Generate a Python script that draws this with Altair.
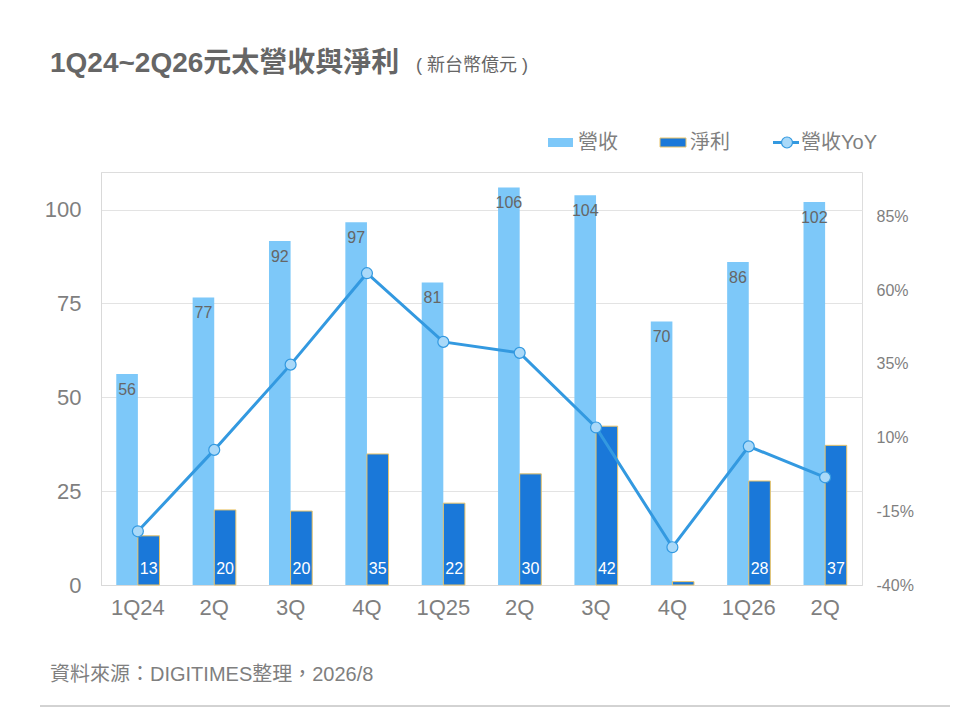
import altair as alt
import pandas as pd

# ---- data ----
periods = ["1Q24", "2Q24", "3Q24", "4Q24", "1Q25", "2Q25", "3Q25", "4Q25", "1Q26", "2Q26"]
revenue = [56.2, 76.6, 91.6, 96.6, 80.6, 105.9, 103.8, 70.2, 86.0, 102.0]   # 營收 (新台幣億元)
profit = [13.1, 20.0, 19.7, 34.9, 21.8, 29.6, 42.3, 0.9, 27.7, 37.2]      # 淨利
yoy = [-21.8, 5.8, 34.7, 65.7, 42.4, 38.7, 13.4, -27.2, 7.0, -3.5]        # 營收YoY (%)

series_names = ["營收", "淨利"]
series_colors = ["#7DC8F9", "#1A78D9"]
left_ticks = [0, 25, 50, 75, 100]
right_ticks = [-40, -15, 10, 35, 60, 85]

FONT = "Liberation Sans, Arial, Noto Sans CJK TC, sans-serif"
GRAY = "#7F7F7F"

bars_df = pd.DataFrame(
    [{"period": p, "series": "營收", "value": v} for p, v in zip(periods, revenue)]
    + [{"period": p, "series": "淨利", "value": v} for p, v in zip(periods, profit)]
)
line_df = pd.DataFrame({"period": periods, "yoy": yoy})
one = pd.DataFrame({"a": [0]})

x_enc = alt.X(
    "period:N",
    sort=periods,
    scale=alt.Scale(paddingInner=0.434),
    axis=alt.Axis(
        title=None,
        labelExpr="indexof(datum.value,'1Q')==0 ? datum.value : slice(datum.value,0,2)",
        labelAngle=0,
        labelFontSize=22,
        labelColor=GRAY,
        labelPadding=12,
        ticks=False,
        domainColor="#D9D9D9",
        domainWidth=1,
    ),
)
xoff = alt.XOffset("series:N", sort=series_names, scale=alt.Scale(domain=series_names, paddingInner=0))
y_left = alt.Y(
    "value:Q",
    scale=alt.Scale(domain=[0, 110], nice=False),
    axis=alt.Axis(
        title=None,
        values=left_ticks,
        labelFontSize=22,
        labelColor=GRAY,
        labelPadding=20,
        ticks=False,
        tickSize=0,
        gridColor="#E3E3E3",
        domainColor="#D9D9D9",
    ),
)

bars = alt.Chart(bars_df).mark_bar(strokeWidth=1).encode(
    x=x_enc,
    xOffset=xoff,
    y=y_left,
    color=alt.Color("series:N", scale=alt.Scale(domain=series_names, range=series_colors), legend=None),
    stroke=alt.condition("datum.series == '淨利'", alt.value("#E9C46A"), alt.value("transparent")),
)

rev_text = alt.Chart(bars_df).transform_filter("datum.series == '營收'").mark_text(
    baseline="top", dy=8, fontSize=16, color="#666666", font=FONT
).encode(x=x_enc, xOffset=xoff, y=y_left, text=alt.Text("value:Q", format=".0f"))

prof_text = alt.Chart(bars_df).transform_filter("datum.series == '淨利' && datum.value >= 5").mark_text(
    baseline="bottom", dy=-8, fontSize=16, color="white", font=FONT
).encode(x=x_enc, xOffset=xoff, y=alt.datum(0), text=alt.Text("value:Q", format=".0f"))

left = alt.layer(bars, rev_text, prof_text)

y_right = alt.Y(
    "yoy:Q",
    scale=alt.Scale(domain=[-40, 100], nice=False),
    axis=alt.Axis(
        title=None,
        orient="right",
        values=right_ticks,
        labelExpr="datum.value + '%'",
        labelFontSize=16,
        labelColor=GRAY,
        labelPadding=14,
        ticks=False,
        tickSize=0,
        grid=False,
        domain=False,
    ),
)
line = alt.Chart(line_df).mark_line(color="#3399E0", strokeWidth=3).encode(x=x_enc, y=y_right)
pts = alt.Chart(line_df).mark_point(
    filled=True, fill="#A9D9F9", stroke="#3399E0", strokeWidth=1.2, size=120, opacity=1
).encode(x=x_enc, y=y_right)
right = alt.layer(line, pts)

# ---- decorations: title, legend, footer (positions relative to plot origin) ----
def txt(s, x, y, size, color, weight="normal", baseline="alphabetic"):
    return alt.Chart(one).mark_text(
        text=s, align="left", baseline=baseline, fontSize=size, color=color,
        fontWeight=weight, font=FONT,
    ).encode(x=alt.value(x), y=alt.value(y))

title = txt("1Q24~2Q26元太營收與淨利", -51, -100, 28, "#666666", weight="bold")
subtitle = txt("( 新台幣億元 )", 315, -101, 18, "#666666")

def swatch(x0, x1, color, stroke="transparent"):
    return alt.Chart(one).mark_rect(color=color, stroke=stroke, strokeWidth=1).encode(
        x=alt.value(x0), x2=alt.value(x1), y=alt.value(-34), y2=alt.value(-25)
    )

leg1 = swatch(447, 472, series_colors[0])
leg1t = txt("營收", 477, -29.5, 20, GRAY, baseline="middle")
leg2 = swatch(559, 585, series_colors[1], stroke="#E9C46A")
leg2t = txt("淨利", 589, -29.5, 20, GRAY, baseline="middle")
leg3 = alt.Chart(one).mark_rule(color="#3399E0", strokeWidth=3).encode(
    x=alt.value(672), x2=alt.value(698), y=alt.value(-29.5)
)
leg3p = alt.Chart(one).mark_point(
    filled=True, fill="#A9D9F9", stroke="#3399E0", strokeWidth=1.2, size=120, opacity=1
).encode(x=alt.value(686), y=alt.value(-29.5))
leg3t = txt("營收YoY", 700, -29.5, 20, GRAY, baseline="middle")

footer = txt("資料來源：DIGITIMES整理，2026/8", -51, 509, 20, GRAY)
footer_rule = alt.Chart(one).mark_rule(color="#A6A6A6", strokeWidth=1).encode(
    x=alt.value(-61), x2=alt.value(849), y=alt.value(534)
)

chart = alt.layer(
    left, right,
    title, subtitle, leg1, leg1t, leg2, leg2t, leg3, leg3p, leg3t, footer, footer_rule,
).resolve_scale(y="independent").properties(
    width=761,
    height=413,
    padding={"left": 93, "top": 164, "right": 90, "bottom": 127},
    autosize=alt.AutoSizeParams(type="none"),
).configure_view(stroke=None).configure(font=FONT)

chart.save("out.html", embed_options={"renderer": "svg", "actions": False})
